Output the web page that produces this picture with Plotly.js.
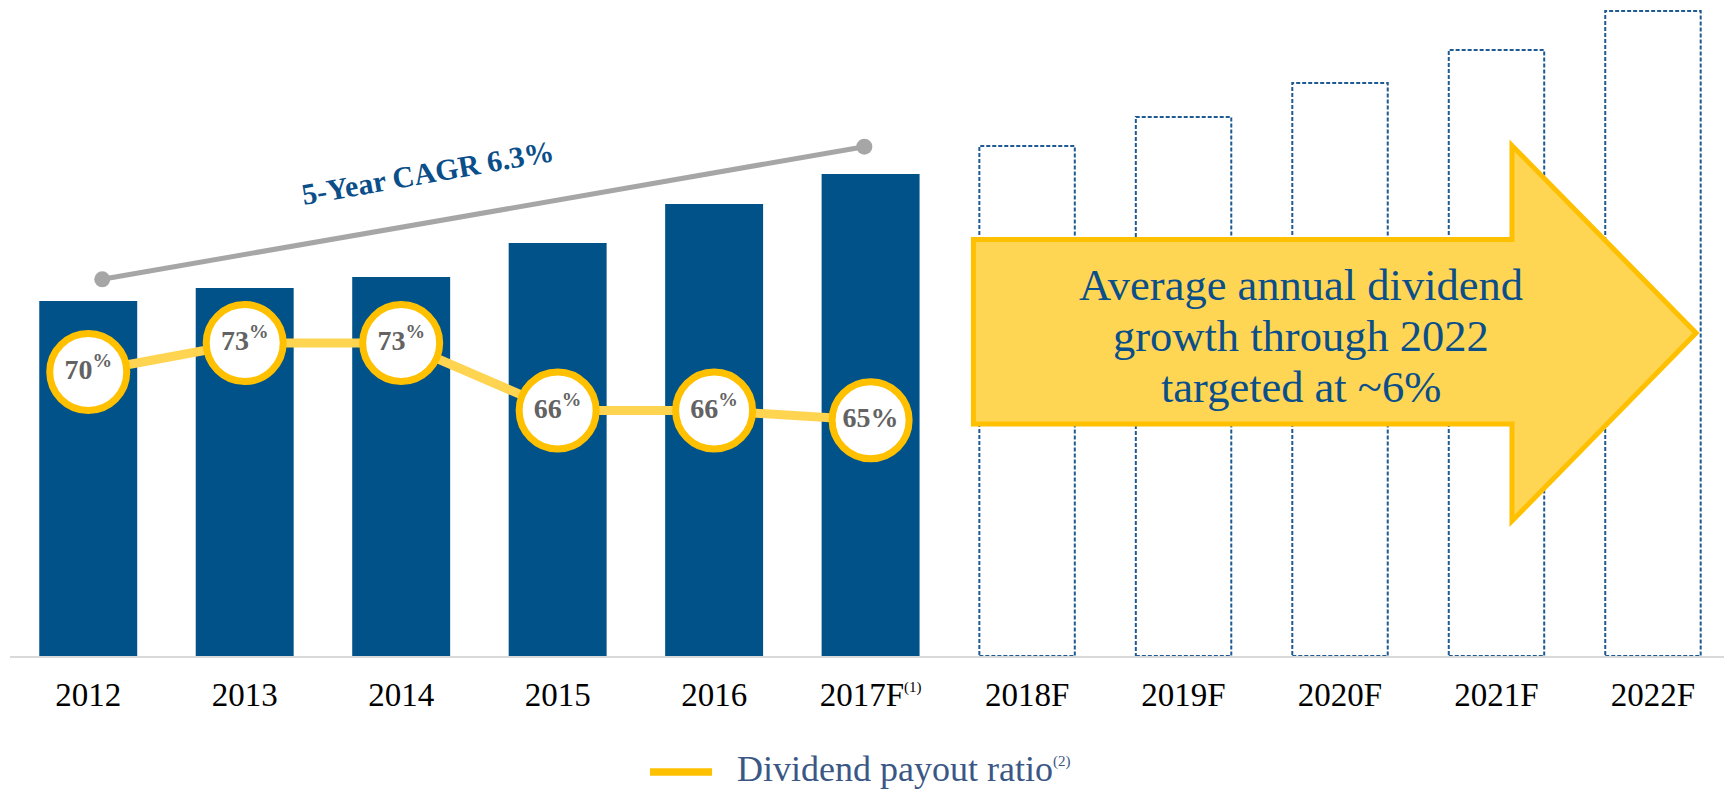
<!DOCTYPE html>
<html><head><meta charset="utf-8">
<script src="https://cdn.plot.ly/plotly-3.0.1.min.js"></script>
<style>html,body{margin:0;padding:0;background:#fff;overflow:hidden}#chart{width:1724px;height:789px}</style>
</head><body><div id="chart"></div>
<script>
// ---- data ----
const categories = ['2012','2013','2014','2015','2016','2017F','2018F','2019F','2020F','2021F','2022F'];
const tickLabels = ['2012','2013','2014','2015','2016','2017F<sup><span style="font-size:15px">(1)</span></sup>','2018F','2019F','2020F','2021F','2022F'];
const actualYears = ['2012','2013','2014','2015','2016','2017F'];
const dividend = [3.55, 3.68, 3.79, 4.13, 4.52, 4.82];
const forecastYears = ['2018F','2019F','2020F','2021F','2022F'];
const dividendForecast = [5.10, 5.39, 5.73, 6.06, 6.45];
const payoutRatio = [70, 73, 73, 66, 66, 65];
const payoutLabels = ['70<sup>%</sup>','73<sup>%</sup>','73<sup>%</sup>','66<sup>%</sup>','66<sup>%</sup>','65%'];
const cagrText = '5-Year CAGR 6.3%';
const arrowLines = ['Average annual dividend', 'growth through 2022', 'targeted at ~6%'];
const legendText = 'Dividend payout ratio<sup><span style="font-size:15px">(2)</span></sup>';

// ---- styles ----
const BLUE = '#02528A';
const SERIF = '"Liberation Serif", "DejaVu Serif", serif';
const BAR_W = 0.626;

const traces = [
  {type:'bar', x: actualYears, y: dividend, marker:{color: BLUE}, width: BAR_W, hoverinfo:'x+y'},
  {type:'bar', x: forecastYears, y: dividendForecast, marker:{color:'rgba(0,0,0,0)'}, width: BAR_W, hoverinfo:'x+y'},
  {type:'scatter', x: actualYears, y: payoutRatio, yaxis:'y2', mode:'lines+markers+text',
   line:{color:'#FFD451', width:9},
   marker:{size:77, color:'#FFFFFF', line:{color:'#FFC000', width:7}},
   text: payoutLabels, textposition:'middle center',
   textfont:{family: SERIF, size:28, color:'#636363', weight:'bold'},
   hoverinfo:'x+y', cliponaxis:false}
];

const shapes = [];
// dashed outlines for the forecast bars, built from the data
forecastYears.forEach((yr, k) => {
  const i = categories.indexOf(yr);
  shapes.push({type:'rect', xref:'x', yref:'y', x0: i - 0.305, x1: i + 0.305, y0: 0, y1: dividendForecast[k],
    line:{color:'#1F5A92', width:2, dash:'4px,2px'}, fillcolor:'rgba(0,0,0,0)', layer:'above'});
});
// CAGR line
const cagr = {x0:0.0895, y0:3.767, x1:4.96, y1:5.093};
shapes.push({type:'line', xref:'x', yref:'y', x0:cagr.x0, y0:cagr.y0, x1:cagr.x1, y1:cagr.y1,
  line:{color:'#A6A6A6', width:5}, layer:'above'});
[[cagr.x0,cagr.y0],[cagr.x1,cagr.y1]].forEach(p => {
  shapes.push({type:'circle', xref:'x', yref:'y', xsizemode:'pixel', ysizemode:'pixel',
    xanchor:p[0], yanchor:p[1], x0:-8, x1:8, y0:-8, y1:8,
    fillcolor:'#A6A6A6', line:{width:0}, layer:'above'});
});
// big arrow
shapes.push({type:'path', xref:'paper', yref:'paper', layer:'above',
  path:'M0.5621,0.6349 L0.8763,0.6349 L0.8763,0.7782 L0.9837,0.4924 L0.8763,0.2058 L0.8763,0.3537 L0.5621,0.3537 Z',
  fillcolor:'#FFD554', line:{color:'#FFC000', width:5}});
// legend line
shapes.push({type:'line', xref:'paper', yref:'paper', x0:0.3734, x1:0.4096, y0:-0.1768, y1:-0.1768,
  line:{color:'#FFC000', width:7.5}});

const annotations = [
  {xref:'x', yref:'y', x:2.169, y:4.84, text:cagrText, showarrow:false, textangle:-10,
   font:{family:SERIF, size:30, color:'#0B4F8A', weight:'bold'}},
  {xref:'paper', yref:'paper', x:0.4230, y:-0.1723, xanchor:'left', yanchor:'middle', text:legendText,
   showarrow:false, font:{family:SERIF, size:36, color:'#3B5785'}}
];
const arrowY = [0.5649, 0.4878, 0.4101];
arrowLines.forEach((t, k) => {
  annotations.push({xref:'paper', yref:'paper', x:0.7530, y:arrowY[k], xanchor:'center', yanchor:'middle',
    text:t, showarrow:false, font:{family:SERIF, size:44.5, color:'#0B4F8A'}});
});

const layout = {
  width:1724, height:789,
  margin:{l:10, r:0, t:0, b:133, pad:0},
  paper_bgcolor:'#FFFFFF', plot_bgcolor:'#FFFFFF',
  showlegend:false, barmode:'overlay',
  xaxis:{type:'category', categoryorder:'array', categoryarray:categories,
    tickmode:'array', tickvals:categories, ticktext:tickLabels,
    range:[-0.5, 10.454], showgrid:false, zeroline:false,
    showline:true, linecolor:'#D9D9D9', linewidth:2, ticks:'', ticklabelstandoff:8,
    tickfont:{family:SERIF, size:33, color:'#000000'}, fixedrange:true},
  yaxis:{range:[0, 6.56], visible:false, showgrid:false, zeroline:false, fixedrange:true},
  yaxis2:{overlaying:'y', range:[40.54, 108.59], visible:false, showgrid:false, zeroline:false, fixedrange:true},
  shapes: shapes, annotations: annotations,
  font:{family:SERIF}
};

Plotly.newPlot('chart', traces, layout, {displayModeBar:false});
</script>
</body></html>
